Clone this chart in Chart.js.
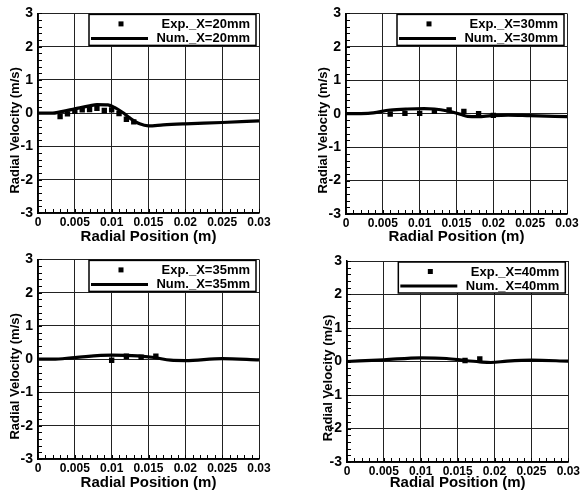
<!DOCTYPE html>
<html lang="en">
<head>
<meta charset="UTF-8">
<title>Radial Velocity profiles</title>
<script src="https://cdn.jsdelivr.net/npm/chart.js"></script>
<style>
  body { margin: 0; background: #fff; }
  #wrap { position: relative; width: 582px; height: 493px; }
  #wrap canvas { position: absolute; }
</style>
</head>
<body>
<div id="wrap">
  <canvas id="c20" width="291" height="247" style="left:0;top:0"></canvas>
  <canvas id="c30" width="291" height="247" style="left:291px;top:0"></canvas>
  <canvas id="c35" width="291" height="247" style="left:0;top:246px"></canvas>
  <canvas id="c40" width="291" height="247" style="left:291px;top:246px"></canvas>
</div>
<script>
// axis ticks
const xTicks = [0, 0.005, 0.01, 0.015, 0.02, 0.025, 0.03];
const xTickLabels = ['0', '0.005', '0.01', '0.015', '0.02', '0.025', '0.03'];
const yTicks = [-3, -2, -1, 0, 1, 2, 3];

// X = 20 mm
const exp20X = [0.003, 0.004, 0.005, 0.006, 0.007, 0.008, 0.009, 0.010, 0.011, 0.012, 0.013];
const exp20Y = [-0.10, -0.02, 0.06, 0.10, 0.11, 0.15, 0.08, 0.10, -0.01, -0.18, -0.26];
const num20X = [0, 0.002, 0.003, 0.005, 0.007, 0.008, 0.0095, 0.0105, 0.0115, 0.0125, 0.0138, 0.015, 0.017, 0.02, 0.025, 0.03];
const num20Y = [0, 0.0, 0.04, 0.13, 0.22, 0.26, 0.25, 0.16, 0.02, -0.15, -0.32, -0.38, -0.35, -0.32, -0.28, -0.23];

// X = 30 mm
const exp30X = [0.006, 0.008, 0.010, 0.012, 0.014, 0.016, 0.018, 0.020];
const exp30Y = [-0.01, 0.01, 0.01, 0.07, 0.11, 0.07, 0.0, -0.05];
const num30X = [0, 0.003, 0.006, 0.0083, 0.0106, 0.012, 0.0138, 0.0156, 0.0165, 0.0179, 0.0197, 0.022, 0.025, 0.03];
const num30Y = [0, 0.01, 0.11, 0.14, 0.15, 0.14, 0.08, -0.02, -0.08, -0.09, -0.06, -0.04, -0.06, -0.09];

// X = 35 mm
const exp35X = [0.010, 0.012, 0.014, 0.016];
const exp35Y = [-0.03, 0.09, 0.06, 0.09];
const num35X = [0, 0.002, 0.005, 0.01, 0.0135, 0.0158, 0.018, 0.02, 0.025, 0.03];
const num35Y = [0, 0.0, 0.05, 0.12, 0.10, 0.05, -0.03, -0.04, 0.02, -0.02];

// X = 40 mm
const exp40X = [0.016, 0.018];
const exp40Y = [0.03, 0.08];
const num40X = [0, 0.005, 0.01, 0.0135, 0.016, 0.018, 0.0195, 0.0217, 0.025, 0.03];
const num40Y = [0, 0.05, 0.11, 0.09, 0.03, -0.01, -0.03, 0.01, 0.04, 0.01];

const FONT = "'Liberation Sans', Arial, sans-serif";

const panels = [
  { id: 'c20', tag: '20', ex: exp20X, ey: exp20Y, nx: num20X, ny: num20Y, box: { left: 38, right: 259, top: 13, bottom: 213 }, titleX: 15 },
  { id: 'c30', tag: '30', ex: exp30X, ey: exp30Y, nx: num30X, ny: num30Y, box: { left: 55, right: 276, top: 13, bottom: 214 }, titleX: 32 },
  { id: 'c35', tag: '35', ex: exp35X, ey: exp35Y, nx: num35X, ny: num35Y, box: { left: 38, right: 259, top: 13, bottom: 213 }, titleX: 15 },
  { id: 'c40', tag: '40', ex: exp40X, ey: exp40Y, nx: num40X, ny: num40Y, box: { left: 56, right: 278, top: 15, bottom: 216 }, titleX: 37 }
];

// small inward ticks on bottom and left axes
const minorTicks = {
  id: 'minorTicks',
  afterDraw(chart) {
    const { ctx, chartArea: a, scales: { x, y } } = chart;
    ctx.save();
    ctx.strokeStyle = '#000';
    ctx.lineWidth = 1;
    ctx.beginPath();
    for (let i = 0; i <= 30; i++) {
      const px = Math.round(x.getPixelForValue(i * 0.001)) + 0.5;
      ctx.moveTo(px, a.bottom);
      ctx.lineTo(px, a.bottom - 4);
    }
    for (let i = 0; i <= 30; i++) {
      const py = Math.round(y.getPixelForValue(-3 + i * 0.2)) + 0.5;
      ctx.moveTo(a.left, py);
      ctx.lineTo(a.left + 4, py);
    }
    ctx.stroke();
    ctx.restore();
  }
};

// boxed legend in the top right of the plot
const boxLegend = {
  id: 'boxLegend',
  afterDatasetsDraw(chart) {
    const { ctx, chartArea: a } = chart;
    const ds = chart.data.datasets;
    const w = 167, h = 31;
    const r = a.right - 3, l = r - w, t = a.top + 1;
    ctx.save();
    ctx.fillStyle = '#fff';
    ctx.fillRect(l, t, w, h);
    ctx.strokeStyle = '#000';
    ctx.lineWidth = 1.5;
    ctx.strokeRect(l, t, w, h);
    ctx.fillStyle = '#000';
    ctx.fillRect(l + 29.5, t + 7, 5, 5);
    ctx.lineWidth = 3;
    ctx.beginPath();
    ctx.moveTo(l + 2, t + 24);
    ctx.lineTo(l + 59, t + 24);
    ctx.stroke();
    ctx.font = 'bold 13px ' + FONT;
    ctx.textAlign = 'right';
    ctx.textBaseline = 'middle';
    ctx.fillText(ds[0].label, r - 6, t + 10);
    ctx.fillText(ds[1].label, r - 6, t + 24);
    ctx.restore();
  }
};

// rotated y title, placed like the original (a bit below centre)
const yTitle = {
  id: 'yTitle',
  afterDraw(chart, args, opts) {
    const { ctx, chartArea: a } = chart;
    ctx.save();
    ctx.translate(opts.x, a.top + 117);
    ctx.rotate(-Math.PI / 2);
    ctx.font = 'bold 13px ' + FONT;
    ctx.fillStyle = '#000';
    ctx.textAlign = 'center';
    ctx.textBaseline = 'middle';
    ctx.fillText('Radial Velocity (m/s)', 0, 0);
    ctx.restore();
  }
};

panels.forEach(p => {
  const expPts = p.ex.map((v, i) => ({ x: v, y: p.ey[i] }));
  const numPts = p.nx.map((v, i) => ({ x: v, y: p.ny[i] }));
  new Chart(document.getElementById(p.id), {
    type: 'scatter',
    data: {
      datasets: [
        {
          label: 'Exp._X=' + p.tag + 'mm',
          data: expPts,
          pointStyle: 'rect',
          pointRadius: 3.8,
          backgroundColor: '#000',
          borderColor: '#000',
          borderWidth: 0,
          order: 0
        },
        {
          label: 'Num._X=' + p.tag + 'mm',
          data: numPts,
          showLine: true,
          pointRadius: 0,
          borderColor: '#000',
          borderWidth: 3.2,
          cubicInterpolationMode: 'monotone',
          order: 1
        }
      ]
    },
    options: {
      responsive: false,
      animation: false,
      devicePixelRatio: 1,
      layout: { padding: { left: 0, right: 291 - p.box.right, top: p.box.top, bottom: 0 } },
      plugins: {
        legend: { display: false },
        tooltip: { enabled: false },
        yTitle: { x: p.titleX }
      },
      scales: {
        x: {
          type: 'linear',
          min: 0,
          max: 0.03,
          afterBuildTicks: s => { s.ticks = xTicks.map(v => ({ value: v })); },
          afterFit: s => { s.height = 247 - p.box.bottom; },
          grid: { color: '#222', lineWidth: 1, drawTicks: false },
          border: { color: '#000', width: 1.5 },
          ticks: {
            padding: 2,
            color: '#000',
            font: { family: FONT, size: 12, weight: 'bold' },
            callback: (v, i) => xTickLabels[i]
          },
          title: {
            display: true,
            text: 'Radial Position (m)',
            color: '#000',
            font: { family: FONT, size: 15, weight: 'bold' },
            padding: { top: 0, bottom: 1 }
          }
        },
        y: {
          type: 'linear',
          min: -3,
          max: 3,
          afterBuildTicks: s => { s.ticks = yTicks.map(v => ({ value: v })); },
          afterFit: s => { s.width = p.box.left; },
          grid: { color: '#222', lineWidth: 1, drawTicks: false },
          border: { color: '#000', width: 1.5 },
          ticks: {
            padding: 5,
            color: '#000',
            font: { family: FONT, size: 14, weight: 'bold' }
          }
        }
      }
    },
    plugins: [minorTicks, yTitle, boxLegend]
  });
});
</script>
</body>
</html>
